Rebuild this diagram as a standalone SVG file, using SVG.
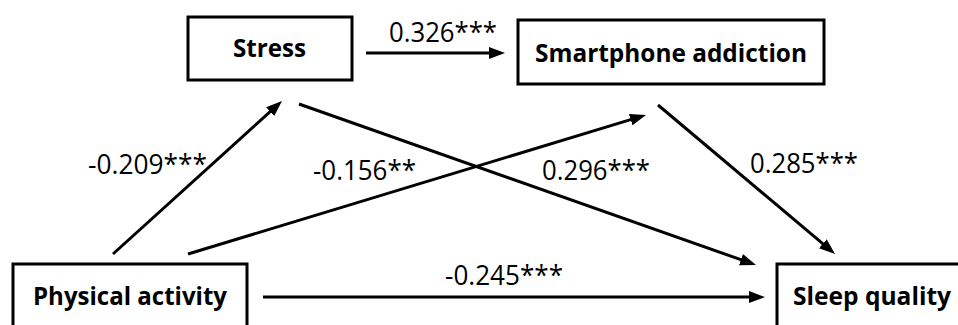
<svg xmlns="http://www.w3.org/2000/svg" width="958" height="325" viewBox="0 0 958 325">
<style>
.box{fill:#fff;stroke:#000;stroke-width:3}
.nl{font-family:"Open Sans","Liberation Sans",sans-serif;font-weight:bold;font-size:25px;fill:#000;text-anchor:middle}
.el{font-family:"Open Sans","Liberation Sans",sans-serif;font-size:28px;fill:#000}
.ar{stroke:#000;stroke-width:3;fill:none;marker-end:url(#ah)}
</style>
<defs>
<marker id="ah" viewBox="0 0 16 12" refX="6" refY="6" markerUnits="userSpaceOnUse" markerWidth="16" markerHeight="12" orient="auto">
<path d="M0,0 L16,6 L0,12 z" fill="#000"/>
</marker>
</defs>
<rect width="958" height="325" fill="#fff"/>
<g id="connectors">
<line class="ar" x1="366" y1="53" x2="495" y2="53"/>
<line class="ar" x1="113" y1="254" x2="274.6" y2="107.7"/>
<line class="ar" x1="188" y1="254" x2="636.4" y2="117.9"/>
<line class="ar" x1="299" y1="104" x2="746.6" y2="261.7"/>
<line class="ar" x1="658" y1="105" x2="827.4" y2="247.6"/>
<line class="ar" x1="263" y1="297" x2="755" y2="297"/>
<text class="el" x="389" y="42" textLength="108" lengthAdjust="spacingAndGlyphs">0.326***</text>
<text class="el" x="88" y="174" textLength="119" lengthAdjust="spacingAndGlyphs">-0.209***</text>
<text class="el" x="313" y="180" textLength="103" lengthAdjust="spacingAndGlyphs">-0.156**</text>
<text class="el" x="542" y="180" textLength="108" lengthAdjust="spacingAndGlyphs">0.296***</text>
<text class="el" x="750" y="173" textLength="108" lengthAdjust="spacingAndGlyphs">0.285***</text>
<text class="el" x="445" y="285" textLength="118" lengthAdjust="spacingAndGlyphs">-0.245***</text>
</g>
<g id="stress">
<rect class="box" x="188" y="17" width="164" height="63"/>
<text class="nl" x="269.5" y="57" textLength="73" lengthAdjust="spacingAndGlyphs">Stress</text>
</g>
<g id="smartphone">
<rect class="box" x="518" y="20" width="306" height="64"/>
<text class="nl" x="671" y="62" textLength="272" lengthAdjust="spacingAndGlyphs">Smartphone addiction</text>
</g>
<g id="physical">
<rect class="box" x="13" y="264" width="234" height="80"/>
<text class="nl" x="130" y="305" textLength="194" lengthAdjust="spacingAndGlyphs">Physical activity</text>
</g>
<g id="sleep">
<rect class="box" x="777" y="264" width="200" height="80"/>
<text class="nl" x="872" y="305" textLength="158" lengthAdjust="spacingAndGlyphs">Sleep quality</text>
</g>
</svg>
